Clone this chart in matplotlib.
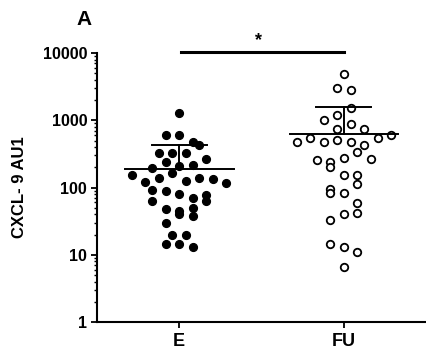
import matplotlib
matplotlib.use("Agg")
import matplotlib.pyplot as plt
from matplotlib.ticker import LogLocator, NullFormatter, FixedLocator, FixedFormatter

plt.rcParams['font.family'] = ['Liberation Sans', 'DejaVu Sans']
plt.rcParams['font.weight'] = 'bold'

groups = ["E", "FU"]

# CXCL-9 values
e_values = [1288, 601, 601, 478, 427, 332, 332, 321, 241, 264, 210, 220, 192,
            153, 162, 139, 122, 124, 137, 132, 117, 91, 88, 81, 70, 77, 63, 63,
            48, 45, 40, 49, 38, 30, 20, 20, 14.4, 14.4, 12.9]
fu_values = [4842, 3030, 2870, 1528, 1191, 1004, 755, 875, 755, 478, 547, 478,
             506, 468, 427, 547, 601, 339, 255, 241, 203, 271, 262, 153, 153,
             111, 94, 83, 83, 58, 42, 40, 33, 14.4, 12.9, 11.1, 6.5]

# swarm column of each point (left/right of the group centre)
e_slot = [0, -2, 0, 2, 3, -3, -1, 1, -2, 4, 0, 2, -4, -7, -1, -3, -5, 1, 3, 5,
          7, -4, -2, 0, 2, 4, 4, -4, -2, 0, 0, 2, 2, -2, -1, 1, -2, 0, 2]
fu_slot = [0, -1, 1, 1, -1, -3, -1, 1, 3, -7, -5, -3, -1, 1, 3, 5, 7, 2, -4,
           -2, -2, 0, 4, 0, 2, 2, -2, -2, 0, 2, 2, 0, -2, -2, 0, 2, 0]

means = [188, 621]
upper = [427, 1582]

fig = plt.figure(figsize=(4.27, 3.61), dpi=100)
ax = fig.add_axes([0.227, 0.108, 0.771, 0.745])

step = 0.041
ax.plot([0 + s * step for s in e_slot], e_values, 'o', color='black',
        markersize=5.6, linestyle='none', clip_on=False)
ax.plot([1 + s * step for s in fu_slot], fu_values, 'o', markerfacecolor='white',
        markeredgecolor='black', markeredgewidth=1.3, markersize=5.4,
        linestyle='none', clip_on=False)

for i in range(len(groups)):
    ax.plot([i - 0.33, i + 0.33], [means[i], means[i]], color='black', lw=1.4, zorder=3)
    ax.plot([i, i], [means[i], upper[i]], color='black', lw=1.4, zorder=3)
    ax.plot([i - 0.167, i + 0.167], [upper[i], upper[i]], color='black', lw=1.4, zorder=3)

# significance bar
ax.plot([0.01, 1.0], [10200, 10200], color='black', lw=2.2, clip_on=False)
ax.text(0.48, 15500, "*", ha='center', va='center', fontsize=13, fontweight='bold')

ax.set_yscale('log')
ax.set_ylim(1, 10000)
ax.set_xlim(-0.5, 1.5)
ax.yaxis.set_major_locator(FixedLocator([1, 10, 100, 1000, 10000]))
ax.yaxis.set_major_formatter(FixedFormatter(["1", "10", "100", "1000", "10000"]))
ax.yaxis.set_minor_locator(LogLocator(base=10, subs=range(2, 10)))
ax.yaxis.set_minor_formatter(NullFormatter())
ax.set_xticks([0, 1])
ax.set_xticklabels(groups, fontsize=13, fontweight='bold')
ax.tick_params(axis='y', which='major', labelsize=11.5, length=4, width=1.3, pad=3)
ax.tick_params(axis='y', which='minor', length=2.5, width=1)
ax.tick_params(axis='x', length=4, width=1.3, pad=4)

for side in ['top', 'right']:
    ax.spines[side].set_visible(False)
for side in ['left', 'bottom']:
    ax.spines[side].set_linewidth(1.5)

ax.set_ylabel("CXCL- 9 AU1", fontsize=12, fontweight='bold', labelpad=11)
fig.text(0.197, 0.945, "A", fontsize=15, fontweight='bold', ha='center', va='center')

plt.savefig("out.png", dpi=100)
